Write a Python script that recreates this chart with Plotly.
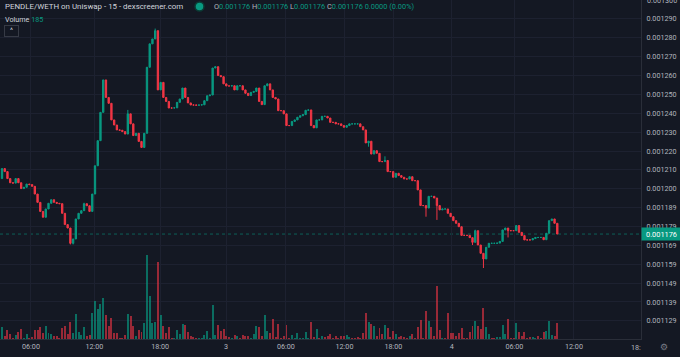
import plotly.graph_objects as go

# ---------------- data (prices in micro-ETH, 1e-6 ETH) ----------------
first_open_ueth = 1205.4
close_ueth = [
    1210.7, 1209.1, 1205.4, 1203.2, 1203.0, 1205.4, 1203.2, 1200.1, 1200.8, 1202.5,
    1202.2, 1201.3, 1197.2, 1192.8, 1188.0, 1184.9, 1189.3, 1192.3, 1194.2, 1192.8,
    1192.3, 1192.1, 1187.0, 1181.0, 1179.2, 1171.1, 1173.4, 1184.0, 1187.0, 1188.4,
    1192.1, 1191.0, 1188.0, 1197.2, 1212.2, 1225.5, 1240.5, 1257.7, 1248.4, 1245.3,
    1236.5, 1233.8, 1231.2, 1231.0, 1230.3, 1229.0, 1239.7, 1234.4, 1228.2, 1229.4,
    1225.1, 1221.9, 1229.4, 1264.4, 1276.8, 1279.4, 1283.8, 1252.4, 1256.4, 1248.4,
    1246.3, 1242.8, 1242.8, 1242.9, 1245.8, 1247.6, 1253.4, 1248.4, 1245.5, 1244.4,
    1244.4, 1244.3, 1244.4, 1244.5, 1246.7, 1249.3, 1249.7, 1264.0, 1264.7, 1260.0,
    1259.4, 1255.6, 1254.5, 1254.5, 1254.6, 1252.4, 1254.6, 1254.6, 1252.4, 1250.6,
    1249.4, 1251.1, 1251.6, 1253.4, 1246.3, 1244.6, 1254.6, 1255.6, 1252.4, 1248.4,
    1247.6, 1241.4, 1241.4, 1239.7, 1233.5, 1233.5, 1235.7, 1236.5, 1237.9, 1238.7,
    1239.3, 1241.6, 1241.8, 1233.5, 1232.3, 1236.5, 1236.5, 1238.4, 1238.4, 1237.5,
    1235.2, 1235.2, 1234.4, 1234.4, 1233.5, 1232.6, 1233.5, 1234.4, 1234.4, 1234.4,
    1234.4, 1232.9, 1231.2, 1224.3, 1225.2, 1218.4, 1220.2, 1218.8, 1214.4, 1214.4,
    1215.0, 1209.1, 1209.1, 1206.1, 1208.2, 1207.0, 1206.1, 1205.2, 1205.2, 1206.4,
    1204.3, 1204.3, 1199.4, 1191.1, 1191.1, 1189.8, 1196.0, 1196.0, 1195.1, 1191.1,
    1188.8, 1189.3, 1189.3, 1187.0, 1185.2, 1183.1, 1181.7, 1179.9, 1175.3, 1175.3,
    1175.3, 1174.1, 1171.6, 1177.8, 1170.2, 1165.8, 1162.8, 1169.0, 1171.1, 1171.1,
    1171.1, 1171.2, 1172.1, 1178.2, 1179.2, 1177.8, 1177.8, 1177.8, 1180.5, 1176.9,
    1175.2, 1172.9, 1172.9, 1172.9, 1173.6, 1174.2, 1174.2, 1174.2, 1173.0, 1176.4,
    1183.1, 1184.0, 1181.7, 1176.0,
]
# visible wick extremes (candle index -> price in micro-ETH)
wick_high_ueth = {30: 1192.6, 46: 1241.8, 56: 1284.9, 140: 1217.2, 173: 1178.3}
wick_low_ueth = {25: 1170.5, 26: 1170.5, 134: 1222.3, 155: 1185.2, 159: 1183.5,
                 172: 1170.2, 176: 1158.0, 185: 1174.2}

volume = [
    142, 38, 108, 58, 8, 46, 77, 119, 8, 58, 8, 27, 104, 104, 139, 69, 147, 69, 61, 38,
    38, 8, 127, 154, 58, 193, 69, 289, 77, 50, 142, 38, 50, 297, 443, 347, 405, 477, 277, 154,
    243, 69, 69, 12, 15, 46, 289, 262, 154, 31, 108, 84, 185, 975, 501, 181, 193, 890, 277, 154,
    66, 135, 8, 8, 104, 58, 173, 162, 77, 35, 20, 15, 8, 8, 50, 96, 8, 397, 50, 165,
    89, 116, 31, 20, 8, 50, 38, 8, 50, 38, 35, 8, 61, 154, 142, 38, 277, 89, 66, 228,
    27, 173, 8, 38, 162, 8, 50, 8, 69, 8, 8, 84, 8, 200, 27, 116, 8, 31, 27, 38,
    58, 8, 31, 8, 38, 38, 46, 20, 15, 8, 20, 8, 73, 301, 193, 173, 154, 38, 127, 58,
    165, 127, 20, 96, 58, 20, 38, 20, 8, 31, 58, 8, 142, 220, 8, 327, 212, 135, 31, 616,
    104, 8, 8, 297, 66, 66, 38, 66, 127, 8, 8, 77, 154, 212, 154, 116, 358, 142, 58, 8,
    8, 27, 20, 165, 58, 231, 8, 8, 181, 77, 31, 77, 8, 20, 27, 8, 35, 8, 81, 89,
    205, 50, 31, 185,
]

time_tick_pos = [10.6, 33.8, 57.8, 81.9, 103.8, 125.2, 143.1, 164.4, 187.3, 209.1]
time_tick_text = ["06:00", "12:00", "18:00", "3", "06:00", "12:00", "18:00", "4", "06:00", "12:00"]

price_tick_vals = [0.00113, 0.00114, 0.00115, 0.00116, 0.00117, 0.00118, 0.00119, 0.00120,
                   0.00121, 0.00122, 0.00123, 0.00124, 0.00125, 0.00126, 0.00127, 0.00128,
                   0.00129]
price_tick_text = ["0.001129", "0.001139", "0.001149", "0.001159", "0.001169", "0.001179",
                   "0.001189", "0.001200", "0.001210", "0.001220", "0.001230", "0.001240",
                   "0.001250", "0.001260", "0.001270", "0.001280", "0.001290"]
top_tick_val = 0.00130
top_tick_text = "0.001300"
last_price = 0.001176
last_price_text = "0.001176"
last_volume = "185"

# ---------------- build OHLC ----------------
UE = 1e-6
n = len(close_ueth)
idx = list(range(n))
open_ueth = [first_open_ueth] + close_ueth[:-1]
high_ueth = [max(open_ueth[i], close_ueth[i], wick_high_ueth.get(i, 0)) for i in idx]
low_ueth = [min(open_ueth[i], close_ueth[i], wick_low_ueth.get(i, 1e9)) for i in idx]
o = [v * UE for v in open_ueth]
h = [v * UE for v in high_ueth]
l = [v * UE for v in low_ueth]
c = [v * UE for v in close_ueth]

GREEN = "#089981"
RED = "#f23645"
VGREEN = "rgba(8,153,129,0.66)"
VRED = "rgba(242,54,69,0.6)"
BG = "#141823"
GRID = "#1d2130"
AXLINE = "#2a2e39"
TXT = "#b2b5be"
FONT = "Roboto"

vol_colors = [VGREEN if c[i] > o[i] else VRED for i in idx]

fig = go.Figure()
fig.add_trace(go.Bar(x=idx, y=volume, marker=dict(color=vol_colors, line=dict(width=0)),
                     width=0.72, xaxis="x", yaxis="y", hoverinfo="skip", showlegend=False))
fig.add_trace(go.Candlestick(
    x=idx, open=o, high=h, low=l, close=c, xaxis="x", yaxis="y2",
    increasing=dict(line=dict(color=GREEN, width=1), fillcolor=GREEN),
    decreasing=dict(line=dict(color=RED, width=1), fillcolor=RED),
    whiskerwidth=0, hoverinfo="skip", showlegend=False))

W_PLOT, H_PLOT = 641.0, 339.0


def px(x):
    return x / W_PLOT


def py(y):
    return 1 - y / H_PLOT


annotations = [
    dict(x=px(3), y=py(6.5), xref="paper", yref="paper", xanchor="left", yanchor="middle",
         text="PENDLE/WETH on Uniswap - 15 - dexscreener.com", showarrow=False,
         font=dict(family=FONT, size=7.9, color="#d1d4dc")),
    dict(x=px(212), y=py(6.5), xref="paper", yref="paper", xanchor="left", yanchor="middle",
         showarrow=False, font=dict(family=FONT, size=7.4, color=TXT),
         text=("O<span style='color:#089981'>0.001176</span> "
               "H<span style='color:#089981'>0.001176</span> "
               "L<span style='color:#089981'>0.001176</span> "
               "C<span style='color:#089981'>0.001176</span> "
               "<span style='color:#089981'>0.0000 (0.00%)</span>")),
    dict(x=px(3), y=py(19), xref="paper", yref="paper", xanchor="left", yanchor="middle",
         showarrow=False, font=dict(family=FONT, size=7.2, color="#d1d4dc"),
         text="Volume <span style='color:#089981'>" + last_volume + "</span>"),
    dict(x=px(11.5), y=py(31), xref="paper", yref="paper", xanchor="center", yanchor="middle",
         showarrow=False, font=dict(family=FONT, size=7, color="#d1d4dc"), text="^",
         bordercolor="#363a45", borderwidth=1, width=13, height=10, borderpad=0),
    dict(x=px(645), y=top_tick_val, xref="paper", yref="y2", xanchor="left", yanchor="middle",
         showarrow=False, text=top_tick_text, font=dict(family=FONT, size=7.2, color=TXT)),
    dict(x=1, y=last_price, xref="paper", yref="y2", xanchor="left", yanchor="middle",
         showarrow=False, text=last_price_text, bgcolor=GREEN, width=37, height=10,
         font=dict(family=FONT, size=7.4, color="#ffffff")),
    dict(x=px(636), y=py(347), xref="paper", yref="paper", xanchor="center", yanchor="middle",
         showarrow=False, text="18:", font=dict(family=FONT, size=7.2, color=TXT)),
    dict(x=px(664), y=py(347), xref="paper", yref="paper", xanchor="center", yanchor="middle",
         showarrow=False, text="⚙", font=dict(family="DejaVu Sans", size=9, color="#787b86")),
]

shapes = [
    dict(type="line", xref="paper", yref="y2", x0=0, x1=1, y0=last_price, y1=last_price,
         line=dict(color="rgba(8,153,129,0.55)", width=1, dash="dot"), layer="below"),
    dict(type="circle", xref="paper", yref="paper", x0=px(195), x1=px(204), y0=py(11), y1=py(2),
         line=dict(color="#0b3b35", width=1.5), fillcolor=GREEN),
]

top = 0.00130005
bottom = top - 339 * 0.53e-6

fig.update_layout(
    width=680, height=357, margin=dict(l=0, r=39, t=0, b=18),
    paper_bgcolor=BG, plot_bgcolor=BG, bargap=0, showlegend=False,
    font=dict(family=FONT, size=7.2, color=TXT),
    xaxis=dict(range=[-0.73, 233.6], tickvals=time_tick_pos, ticktext=time_tick_text,
               showgrid=True, gridcolor=GRID, gridwidth=1, zeroline=False,
               showline=True, linecolor=AXLINE, linewidth=1, ticks="", ticklen=0,
               tickfont=dict(family=FONT, size=7.2, color=TXT),
               rangeslider=dict(visible=False), fixedrange=True),
    yaxis=dict(range=[0, 11.56 * 339], visible=False, showgrid=False, zeroline=False,
               fixedrange=True),
    yaxis2=dict(overlaying="y", side="right", range=[bottom, top], tickvals=price_tick_vals,
                ticktext=price_tick_text, showgrid=True, gridcolor=GRID, gridwidth=1,
                zeroline=False, showline=True, linecolor=AXLINE, linewidth=1, ticks="",
                ticklen=0, ticklabelstandoff=3, tickfont=dict(family=FONT, size=7.2, color=TXT),
                fixedrange=True),
    annotations=annotations, shapes=shapes,
)

fig.write_html("out.html", config={"displayModeBar": False},
               post_script="document.body.style.margin='0';document.body.style.overflow='hidden';")
